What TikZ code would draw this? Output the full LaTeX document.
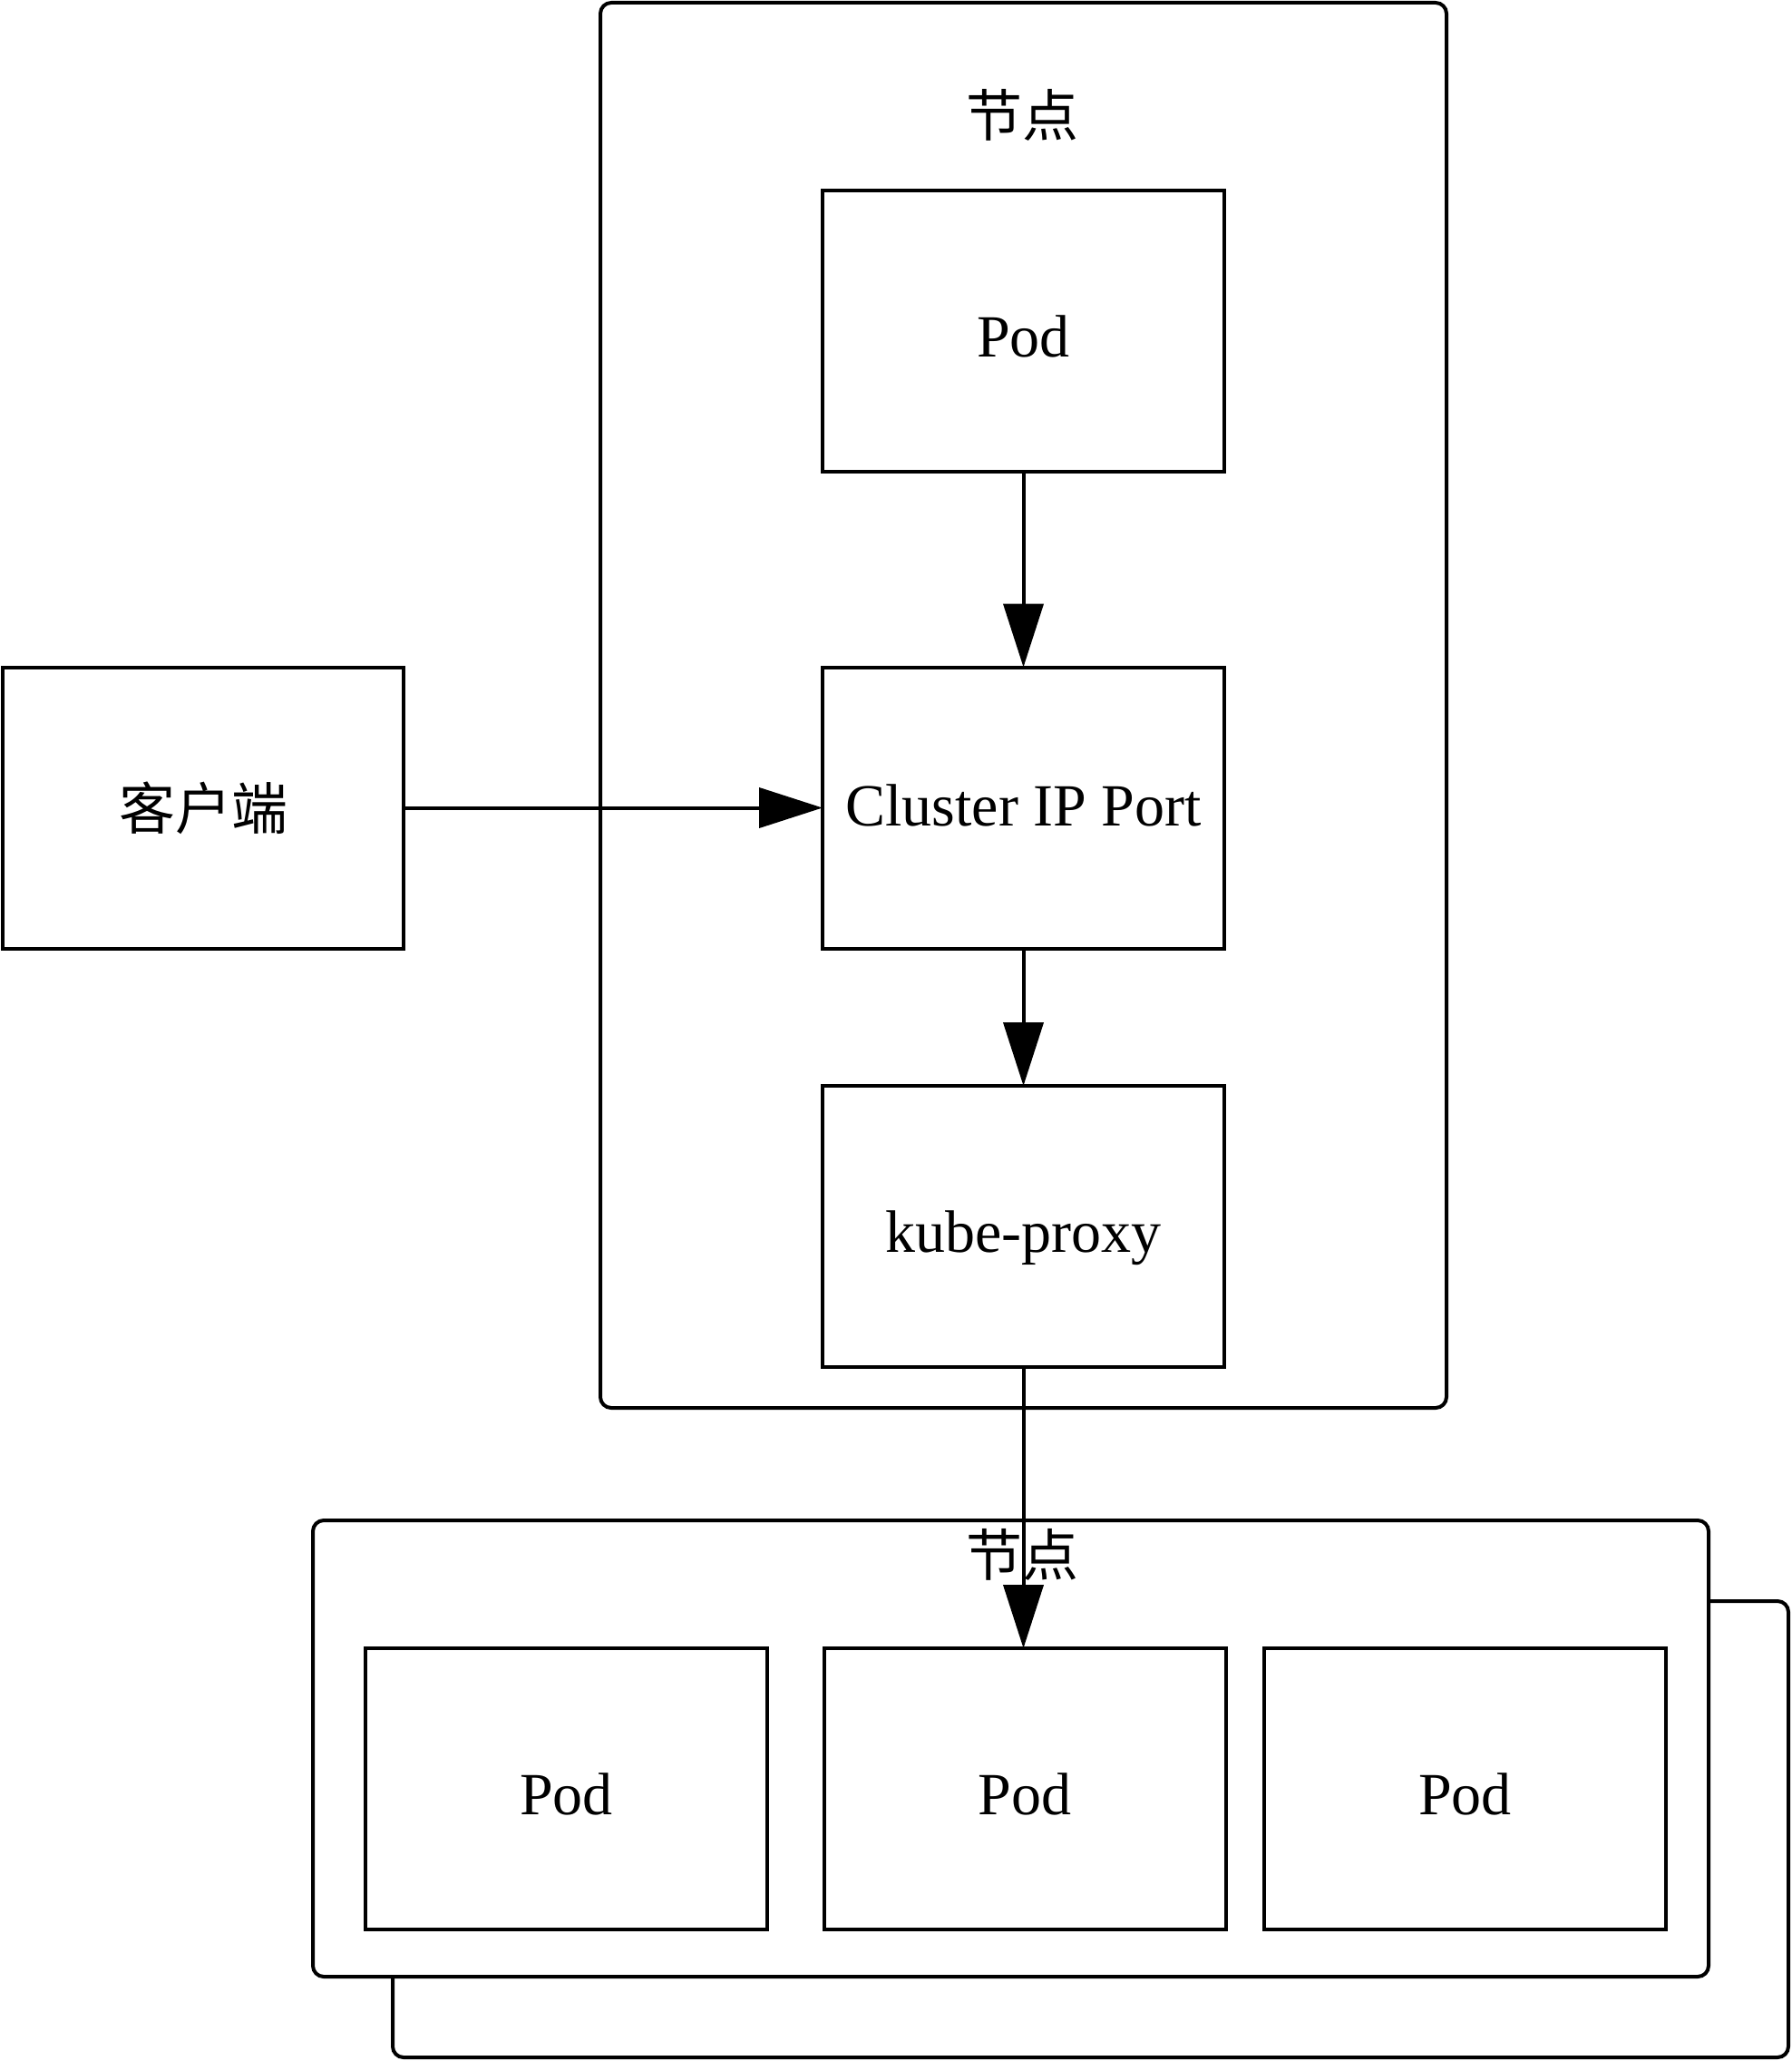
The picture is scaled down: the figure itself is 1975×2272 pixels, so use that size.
\documentclass[tikz,border=0pt]{standalone}
\usepackage{fontspec}
\setmainfont{Liberation Serif}
\newfontfamily\cjk{Noto Sans CJK SC}
\usetikzlibrary{arrows.meta}
\begin{document}
\begin{tikzpicture}[x=1pt,y=-1pt,line width=4pt,
  box/.style={draw,line width=4pt,minimum width=443pt,minimum height=310pt,inner sep=0pt,outer sep=0pt,fill=white,text height=56pt,text depth=0pt,font=\fontsize{66}{70}\selectfont},
  cont/.style={draw,line width=4pt,rounded corners=12pt,fill=white,inner sep=0pt,outer sep=0pt},
  lab/.style={inner sep=0pt,font=\cjk\fontsize{62}{66}\selectfont},
  arr/.style={-{Triangle[length=70pt,width=44pt]},line width=4pt}]
\useasboundingbox (0,0) rectangle (1975,2272);
% top node container
\node[cont,minimum width=933pt,minimum height=1549pt] (topbox) at (1128.5,777.5) {};
\node[lab] (toplab) at (1127,127) {节点};
\node[box] (pod0) at (1128.5,365) {Pod};
\node[box,text height=40pt] (cip) at (1128.5,890.5) {Cluster IP Port};
\node[box] (kp) at (1128.5,1352) {kube-proxy};
\node[box,minimum width=442pt,text height=,text depth=,font=\cjk\fontsize{62}{66}\selectfont] (client) at (224,890.5) {客户端};
% bottom node containers
\node[cont,minimum width=1539pt,minimum height=503pt] (shadow) at (1202.5,2016.5) {};
\node[cont,minimum width=1539pt,minimum height=503pt] (botbox) at (1114.5,1927.5) {};
\node[lab] (botlab) at (1127,1714) {节点};
\node[box] (p1) at (624.5,1972) {Pod};
\node[box] (p2) at (1130,1972) {Pod};
\node[box] (p3) at (1615.5,1972) {Pod};
% connectors
\draw[arr] (pod0.south) -- (cip.north);
\draw[arr] (cip.south) -- (kp.north);
\draw[arr] (client.east) -- (cip.west);
\draw[arr] (kp.south) -- (kp.south |- p2.north);
\end{tikzpicture}
\end{document}
